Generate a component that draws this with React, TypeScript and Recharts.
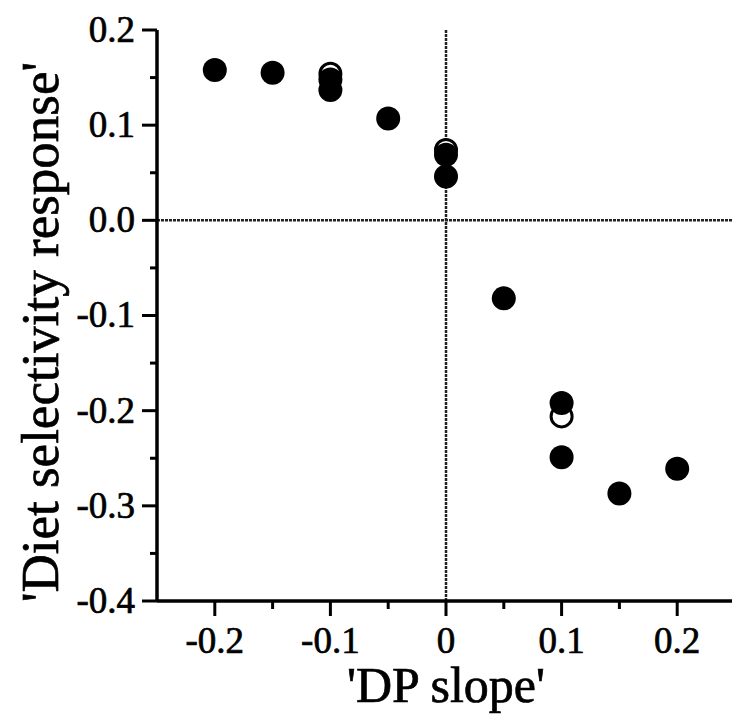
import { ScatterChart, Scatter, XAxis, YAxis, ReferenceLine, Label } from 'recharts';

// filled circles
const FILLED_X = [-0.2, -0.15, -0.1, -0.1, -0.05, 0, 0, 0.05, 0.1, 0.1, 0.15, 0.2];
const FILLED_Y = [0.158, 0.155, 0.148, 0.137, 0.107, 0.069, 0.046, -0.082, -0.192, -0.249, -0.287, -0.261];
// open circles (mostly hidden behind the filled ones)
const OPEN_X = [-0.1, 0, 0.1];
const OPEN_Y = [0.154, 0.074, -0.206];

const X_TICKS = [-0.2, -0.15, -0.1, -0.05, 0, 0.05, 0.1, 0.15, 0.2];
const Y_TICKS = [-0.4, -0.35, -0.3, -0.25, -0.2, -0.15, -0.1, -0.05, 0, 0.05, 0.1, 0.15, 0.2];

const FONT = '"Liberation Serif", "Times New Roman", serif';

const filled = FILLED_X.map((x, i) => ({ x, y: FILLED_Y[i] }));
const open = OPEN_X.map((x, i) => ({ x, y: OPEN_Y[i] }));

const isMajor = (v: number) => Math.abs(Math.round(v * 20)) % 2 === 0;

// slightly heavier text, like the printed figure
const textStyle = { fontFamily: FONT, fill: '#000', stroke: '#000', strokeWidth: 0.7 };

function XTick({ x, y, payload }: any) {
  const v = payload.value;
  const major = isMajor(v);
  return (
    <g>
      <line x1={x} x2={x} y1={y} y2={y + (major ? 15 : 8)} stroke="#000" strokeWidth={3} />
      {major && (
        <text x={x} y={y + 52} textAnchor="middle" fontSize={37} style={textStyle}>
          {v === 0 ? '0' : v.toFixed(1)}
        </text>
      )}
    </g>
  );
}

function YTick({ x, y, payload }: any) {
  const v = payload.value;
  const major = isMajor(v);
  return (
    <g>
      <line x1={x - (major ? 15 : 7)} x2={x} y1={y} y2={y} stroke="#000" strokeWidth={3} />
      {major && (
        <text x={x - 22} y={y} dy="0.32em" textAnchor="end" fontSize={37} style={textStyle}>
          {v.toFixed(1)}
        </text>
      )}
    </g>
  );
}

const dot = (p: any) => <circle cx={p.cx} cy={p.cy} r={12} fill="#000" />;
const ring = (p: any) => <circle cx={p.cx} cy={p.cy} r={10.5} fill="#fff" stroke="#000" strokeWidth={3} />;

export default function App() {
  return (
    <div style={{ position: 'absolute', left: 0, top: 0, width: 732, height: 714, overflow: 'hidden', background: '#fff' }}>
      <ScatterChart width={735} height={714} margin={{ top: 30, right: 0, bottom: 0, left: 0 }}>
        <XAxis
          type="number"
          dataKey="x"
          domain={[-0.25, 0.25]}
          ticks={X_TICKS}
          interval={0}
          height={113}
          tickSize={0}
          tickMargin={0}
          tick={<XTick />}
          axisLine={{ stroke: '#000', strokeWidth: 3.5 }}
          allowDataOverflow
        >
          <Label
            value="'DP slope'"
            position="insideBottom"
            offset={12}
            style={{ ...textStyle, fontSize: 50 }}
          />
        </XAxis>
        <YAxis
          type="number"
          dataKey="y"
          domain={[-0.4, 0.2]}
          ticks={Y_TICKS}
          interval={0}
          width={157}
          tickSize={0}
          tickMargin={0}
          tick={<YTick />}
          axisLine={{ stroke: '#000', strokeWidth: 3.5 }}
          allowDataOverflow
        >
          <Label
            content={() => (
              <text
                x={58}
                y={332}
                transform="rotate(-90, 58, 332)"
                textAnchor="middle"
                fontSize={53}
                style={textStyle}
              >
                'Diet selectivity response'
              </text>
            )}
          />
        </YAxis>
        <ReferenceLine x={0} stroke="#222" strokeWidth={2.5} strokeDasharray="3 1" />
        <ReferenceLine y={0} stroke="#222" strokeWidth={2.5} strokeDasharray="3 1" />
        <Scatter data={open} shape={ring} isAnimationActive={false} />
        <Scatter data={filled} shape={dot} isAnimationActive={false} />
      </ScatterChart>
    </div>
  );
}
